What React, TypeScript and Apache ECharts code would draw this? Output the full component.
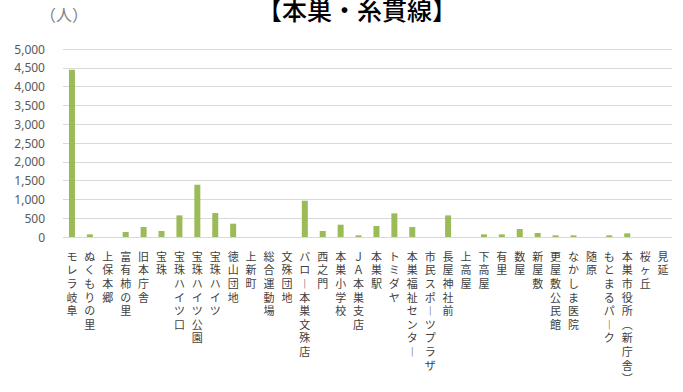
import React, { useEffect, useRef } from "react";
import * as echarts from "echarts";

const categories: string[] = [
  "モレラ岐阜", "ぬくもりの里", "上保本郷", "富有柿の里", "旧本庁舎", "宝珠",
  "宝珠ハイツ口", "宝珠ハイツ公園", "宝珠ハイツ", "徳山団地", "上新町", "総合運動場",
  "文殊団地", "バロー本巣文殊店", "西之門", "本巣小学校", "ＪＡ本巣支店", "本巣駅",
  "トミダヤ", "本巣福祉センター", "市民スポーツプラザ", "長屋神社前", "上高屋", "下高屋",
  "有里", "数屋", "新屋敷", "更屋敷公民館", "なかしま医院", "随原",
  "もとまるパーク", "本巣市役所（新庁舎）", "桜ヶ丘", "見延",
];

const values: number[] = [
  4450, 70, 0, 130, 265, 160,
  575, 1390, 637, 354, 0, 0,
  0, 965, 160, 327, 44, 292,
  628, 265, 0, 575, 0, 70,
  70, 212, 106, 44, 44, 0,
  44, 97, 0, 0,
];

const titleText = "【本巣・糸貫線】";
const unitText = "（人）";

const verticalize = (s: string) =>
  s
    .replace(/ー/g, "︱")
    .replace(/（/g, "︵")
    .replace(/）/g, "︶")
    .split("")
    .join("\n");

export default function App() {
  const ref = useRef<HTMLDivElement>(null);
  useEffect(() => {
    if (!ref.current) return;
    const chart = echarts.init(ref.current, null, { renderer: "svg" });
    chart.setOption({
      animation: false,
      backgroundColor: "#ffffff",
      graphic: [
        {
          type: "text",
          x: 357,
          y: 9,
          style: {
            text: titleText,
            fill: "#000000",
            font: '500 25px "Noto Sans CJK JP"',
            textAlign: "center",
            textVerticalAlign: "middle",
            lineHeight: 22,
          },
        },
        {
          type: "text",
          x: 64,
          y: 14,
          style: {
            text: unitText,
            fill: "#808080",
            font: '16px "Noto Sans CJK JP"',
            textAlign: "center",
            textVerticalAlign: "middle",
            lineHeight: 16,
          },
        },
      ],
      grid: { left: 63, right: 11, top: 49, bottom: 155, containLabel: false },
      xAxis: {
        type: "category",
        data: categories,
        axisLine: { show: false },
        axisTick: { show: false },
        axisLabel: {
          interval: 0,
          margin: 12,
          fontSize: 11,
          lineHeight: 13.6,
          color: "#404040",
          fontFamily: '"Noto Sans CJK JP"',
          formatter: (v: string) => verticalize(v),
          verticalAlign: "top",
        },
      },
      yAxis: {
        type: "value",
        min: 0,
        max: 5000,
        interval: 500,
        axisLine: { show: false },
        axisTick: { show: false },
        splitLine: { lineStyle: { color: "#d9d9d9", width: 1 } },
        axisLabel: {
          margin: 18,
          fontSize: 12,
          color: "#595959",
          fontFamily: '"Noto Sans", sans-serif',
          formatter: (v: number) => v.toLocaleString("en-US"),
        },
      },
      series: [
        {
          type: "bar",
          data: values,
          barWidth: 6,
          itemStyle: { color: "#9bbb59" },
        },
      ],
    });
    return () => chart.dispose();
  }, []);
  return <div ref={ref} style={{ width: 683, height: 392, position: "absolute", left: 0, top: 0 }} />;
}
